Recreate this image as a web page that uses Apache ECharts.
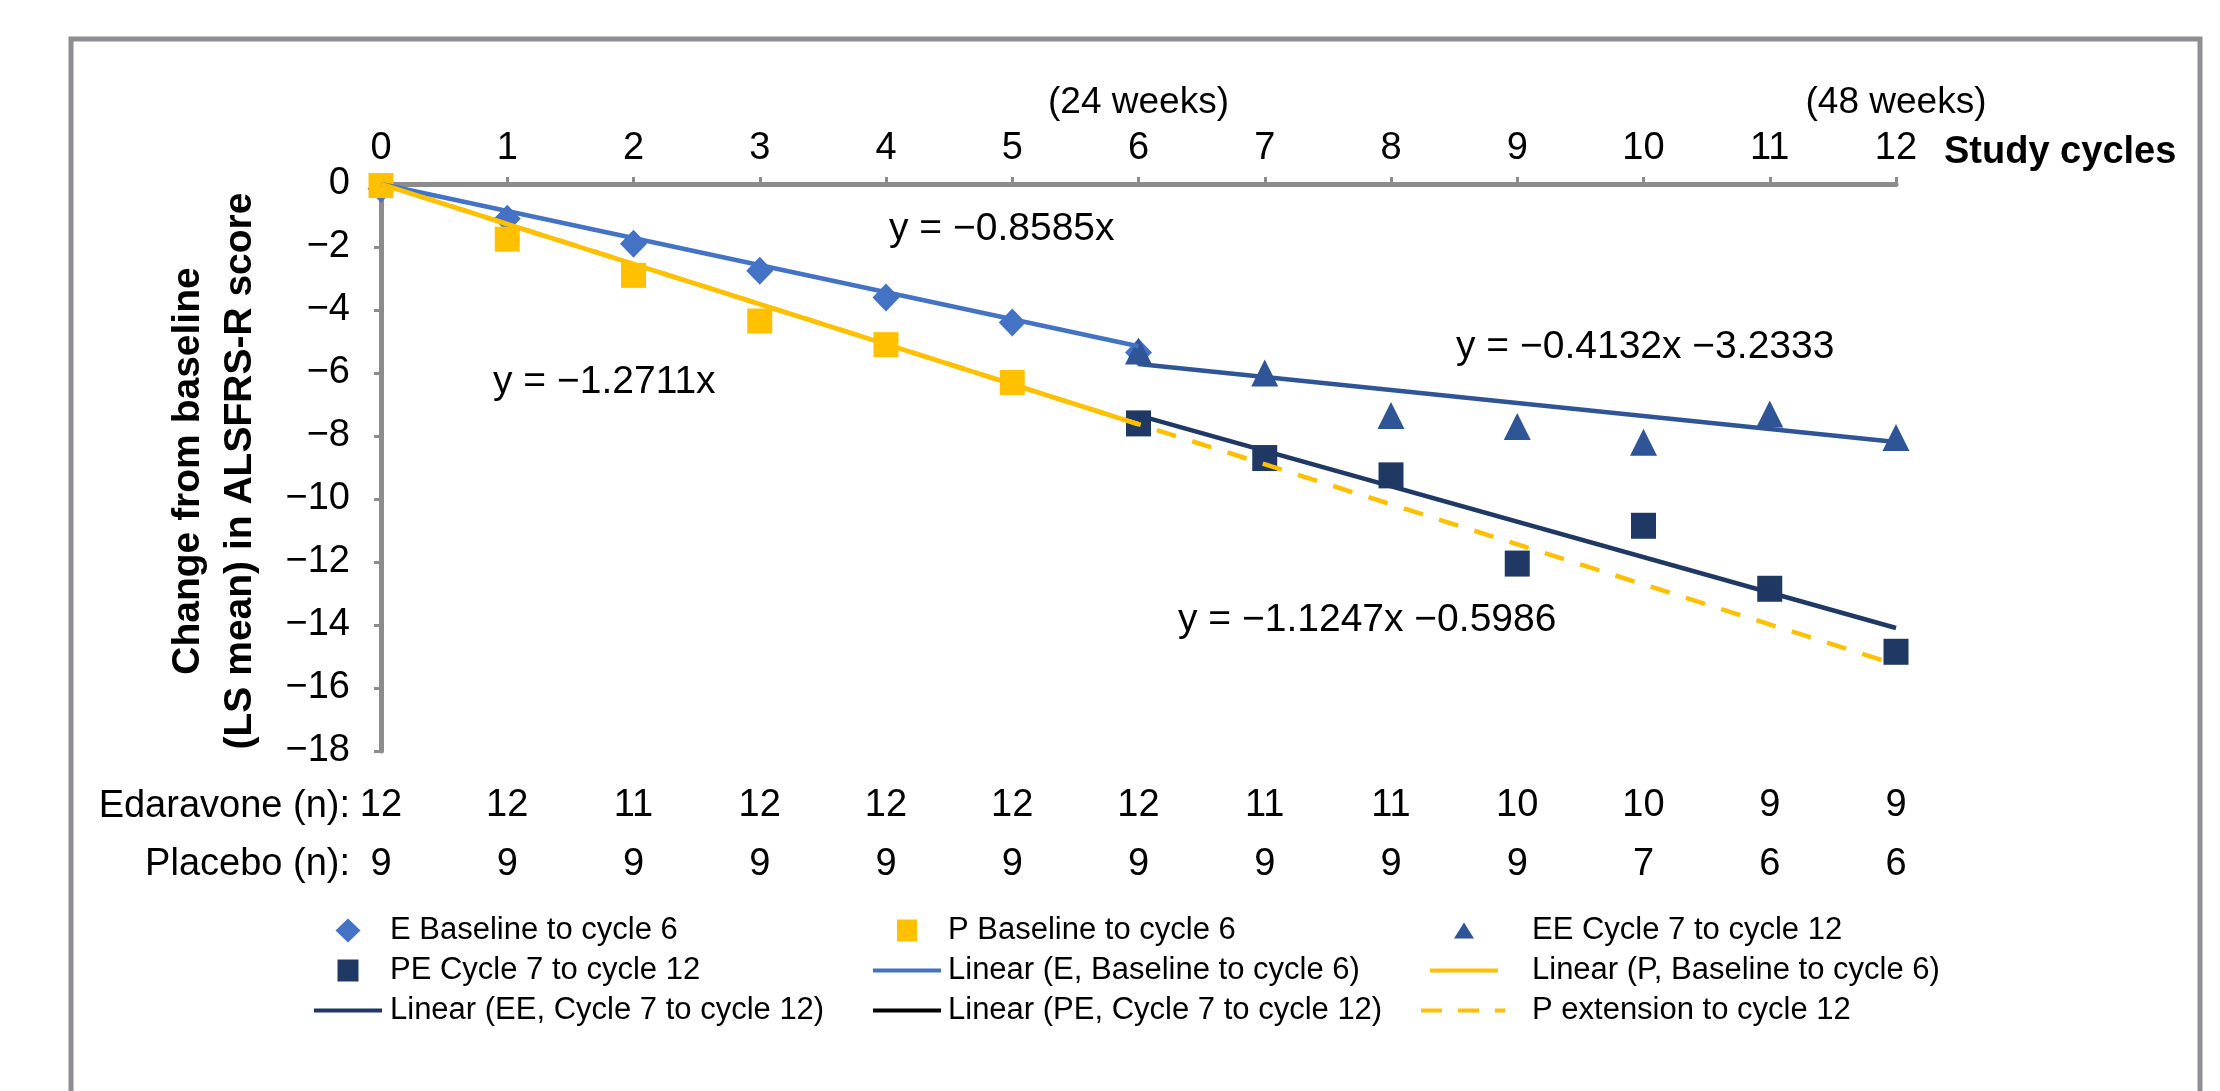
<!DOCTYPE html>
<html>
<head>
<meta charset="utf-8">
<title>ALSFRS-R change from baseline</title>
<script src="https://cdn.jsdelivr.net/npm/echarts@6/dist/echarts.min.js"></script>
<style>
  html, body { margin: 0; padding: 0; background: #ffffff; }
  #chart { width: 2220px; height: 1091px; }
</style>
</head>
<body>
<div id="chart"></div>
<script>
// Study cycles on the top axis
const cycles = [0, 1, 2, 3, 4, 5, 6, 7, 8, 9, 10, 11, 12];
const weekMarks = [6, 12];
const weekLabels = ['(24 weeks)', '(48 weeks)'];

// Change from baseline (LS mean) in ALSFRS-R score
const eCycles = [0, 1, 2, 3, 4, 5, 6];
const eChange = [-0.15, -1.1, -1.9, -2.75, -3.6, -4.4, -5.35];
const pCycles = [0, 1, 2, 3, 4, 5];
const pChange = [-0.05, -1.75, -2.9, -4.35, -5.1, -6.3];
const eeCycles = [6, 7, 8, 9, 10, 11, 12];
const eeChange = [-5.3, -6.0, -7.35, -7.7, -8.2, -7.3, -8.05];
const peCycles = [6, 7, 8, 9, 10, 11, 12];
const peChange = [-7.6, -8.7, -9.25, -12.05, -10.85, -12.85, -14.85];

// Patients per cycle
const edaravoneN = [12, 12, 11, 12, 12, 12, 12, 11, 11, 10, 10, 9, 9];
const placeboN = [9, 9, 9, 9, 9, 9, 9, 9, 9, 9, 7, 6, 6];

// Linear fits: [slope, intercept] and the cycle range each one spans
const fitE = [-0.8585, 0];
const fitP = [-1.2711, 0];
const fitEE = [-0.4132, -3.2333];
const fitPE = [-1.1247, -0.5986];
const rangeE = [0, 6];
const rangeP = [0, 6];
const rangeEE = [6, 12];
const rangePE = [6, 12];
const rangePExt = [0, 12];

const FONT = '"Liberation Sans", Arial, Helvetica, sans-serif';
const AXIS_GREY = '#8c8c8c';
const C_E = '#4472C4';
const C_P = '#FFC000';
const C_EE = '#2F5597';
const C_PE = '#1F3864';

const minus = '\u2212';
const pairs = (xs, ys) => xs.map((x, i) => [x, ys[i]]);
const fitLine = (fit, range) => range.map(x => [x, fit[0] * x + fit[1]]);
const equation = fit => {
  let s = 'y = ' + minus + Math.abs(fit[0]).toFixed(4) + 'x';
  if (fit[1] !== 0) s += ' ' + minus + Math.abs(fit[1]).toFixed(4);
  return s;
};

// Legend glyphs; the leading moves pin every glyph box to the full icon cell
const cell68 = 'path://M0 0M68 24';
const cell84 = 'path://M0 0M84 24';
const ICON = {
  diamond: cell68 + 'M34 0L46.5 12L34 24L21.5 12Z',
  squareP: cell68 + 'M24 1H44V23H24Z',
  squarePE: cell68 + 'M23.5 1H44.5V23H23.5Z',
  line: cell68 + 'M0 10H68V14H0Z',
  triangle: cell84 + 'M43 4L53 20H33Z',
  line84: cell84 + 'M9 10H77V14H9Z',
  dashed84: cell84 + 'M0 10H21V14H0Z M37 10H58V14H37Z M74 10H84V14H74Z'
};

const chart = echarts.init(document.getElementById('chart'), null, { renderer: 'canvas' });

const baseX = {
  type: 'value', min: 0, max: 12, interval: 1,
  splitLine: { show: false }
};

const legendText = { fontFamily: FONT, fontSize: 31, color: '#000', lineHeight: 31 };
const legendCommon = {
  orient: 'vertical', top: 915, itemHeight: 24, itemGap: 9, padding: 0,
  selectedMode: false, itemStyle: { borderWidth: 0 }
};

const option = {
  animation: false,
  backgroundColor: '#ffffff',
  grid: { left: 381, right: 324, top: 184, bottom: 340, containLabel: false },
  xAxis: [
    Object.assign({}, baseX, {
      position: 'top',
      axisLine: { show: true, onZero: false, lineStyle: { color: AXIS_GREY, width: 5 } },
      axisTick: { show: true, length: 7, lineStyle: { color: AXIS_GREY, width: 3 } },
      axisLabel: { margin: 16, color: '#000', fontFamily: FONT, fontSize: 38 }
    }),
    Object.assign({}, baseX, {
      position: 'top',
      axisLine: { show: false, onZero: false },
      axisTick: { show: false },
      axisLabel: {
        margin: 63, color: '#000', fontFamily: FONT, fontSize: 37,
        formatter: v => { const i = weekMarks.indexOf(v); return i >= 0 ? weekLabels[i] : ''; }
      }
    }),
    Object.assign({}, baseX, {
      position: 'bottom',
      axisLine: { show: false, onZero: false },
      axisTick: { show: false },
      axisLabel: {
        margin: 36, color: '#000', fontFamily: FONT, fontSize: 38,
        formatter: v => String(edaravoneN[cycles.indexOf(v)])
      }
    }),
    Object.assign({}, baseX, {
      position: 'bottom',
      axisLine: { show: false, onZero: false },
      axisTick: { show: false },
      axisLabel: {
        margin: 95, color: '#000', fontFamily: FONT, fontSize: 38,
        formatter: v => String(placeboN[cycles.indexOf(v)])
      }
    })
  ],
  yAxis: {
    type: 'value', min: -18, max: 0, interval: 2,
    axisLine: { show: true, onZero: false, lineStyle: { color: AXIS_GREY, width: 5 } },
    axisTick: { show: true, length: 7, lineStyle: { color: AXIS_GREY, width: 3 } },
    axisLabel: {
      margin: 31, color: '#000', fontFamily: FONT, fontSize: 38,
      formatter: v => (v === 0 ? '0' : minus + Math.abs(v))
    },
    splitLine: { show: false }
  },
  legend: [
    Object.assign({}, legendCommon, {
      left: 314, itemWidth: 68,
      textStyle: Object.assign({ padding: [0, 0, 0, 3] }, legendText),
      data: [
        { name: 'E Baseline to cycle 6', icon: ICON.diamond },
        { name: 'PE Cycle 7 to cycle 12', icon: ICON.squarePE },
        { name: 'Linear (EE, Cycle 7 to cycle 12)', icon: ICON.line, itemStyle: { color: C_PE, borderWidth: 0 } }
      ]
    }),
    Object.assign({}, legendCommon, {
      left: 873, itemWidth: 68,
      textStyle: Object.assign({ padding: [0, 0, 0, 2] }, legendText),
      data: [
        { name: 'P Baseline to cycle 6', icon: ICON.squareP },
        { name: 'Linear (E, Baseline to cycle 6)', icon: ICON.line },
        { name: 'Linear (PE, Cycle 7 to cycle 12)', icon: ICON.line, itemStyle: { color: '#000000', borderWidth: 0 } }
      ]
    }),
    Object.assign({}, legendCommon, {
      left: 1421, itemWidth: 84,
      textStyle: Object.assign({ padding: [0, 0, 0, 22] }, legendText),
      data: [
        { name: 'EE Cycle 7 to cycle 12', icon: ICON.triangle },
        { name: 'Linear (P, Baseline to cycle 6)', icon: ICON.line84 },
        { name: 'P extension to cycle 12', icon: ICON.dashed84 }
      ]
    })
  ],
  series: [
    {
      name: 'E Baseline to cycle 6', type: 'scatter', z: 2,
      symbol: 'diamond', symbolSize: [27, 28],
      itemStyle: { color: C_E, opacity: 1 },
      data: pairs(eCycles, eChange)
    },
    {
      name: 'P Baseline to cycle 6', type: 'scatter', z: 2,
      symbol: 'rect', symbolSize: [25, 25],
      itemStyle: { color: C_P, opacity: 1 },
      data: pairs(pCycles, pChange)
    },
    {
      name: 'EE Cycle 7 to cycle 12', type: 'scatter', z: 2,
      symbol: 'triangle', symbolSize: [27, 27],
      itemStyle: { color: C_EE, opacity: 1 },
      data: pairs(eeCycles, eeChange)
    },
    {
      name: 'PE Cycle 7 to cycle 12', type: 'scatter', z: 2,
      symbol: 'rect', symbolSize: [25, 26],
      itemStyle: { color: C_PE, opacity: 1 },
      data: pairs(peCycles, peChange)
    },
    {
      name: 'P extension to cycle 12', type: 'line', z: 3,
      symbol: 'none', showSymbol: false,
      lineStyle: { color: C_P, width: 4.5, type: [20, 17] },
      itemStyle: { color: C_P },
      data: fitLine(fitP, rangePExt)
    },
    {
      name: 'Linear (E, Baseline to cycle 6)', type: 'line', z: 3,
      symbol: 'none', showSymbol: false,
      lineStyle: { color: C_E, width: 4.5 },
      itemStyle: { color: C_E },
      data: fitLine(fitE, rangeE)
    },
    {
      name: 'Linear (P, Baseline to cycle 6)', type: 'line', z: 3,
      symbol: 'none', showSymbol: false,
      lineStyle: { color: C_P, width: 4.5 },
      itemStyle: { color: C_P },
      data: fitLine(fitP, rangeP)
    },
    {
      name: 'Linear (EE, Cycle 7 to cycle 12)', type: 'line', z: 3,
      symbol: 'none', showSymbol: false,
      lineStyle: { color: C_EE, width: 4.5 },
      itemStyle: { color: C_EE },
      data: fitLine(fitEE, rangeEE)
    },
    {
      name: 'Linear (PE, Cycle 7 to cycle 12)', type: 'line', z: 3,
      symbol: 'none', showSymbol: false,
      lineStyle: { color: C_PE, width: 4.5 },
      itemStyle: { color: C_PE },
      data: fitLine(fitPE, rangePE)
    }
  ],
  graphic: [
    // outer frame (open at the bottom)
    {
      type: 'rect', silent: true, z: 0,
      shape: { x: 71, y: 39, width: 2129, height: 1200 },
      style: { fill: 'none', stroke: '#8e8e93', lineWidth: 5 }
    },
    {
      type: 'text', x: 214, y: 471, rotation: Math.PI / 2,
      style: {
        text: 'Change from baseline\n(LS mean) in ALSFRS-R score',
        font: 'bold 39px ' + FONT, fill: '#000',
        align: 'center', verticalAlign: 'middle', lineHeight: 52
      }
    },
    {
      type: 'text', x: 1944, y: 153,
      style: { text: 'Study cycles', font: 'bold 38px ' + FONT, fill: '#000', align: 'left', verticalAlign: 'middle' }
    },
    {
      type: 'text', x: 350, y: 807,
      style: { text: 'Edaravone (n):', font: '38px ' + FONT, fill: '#000', align: 'right', verticalAlign: 'middle' }
    },
    {
      type: 'text', x: 350, y: 865,
      style: { text: 'Placebo (n):', font: '38px ' + FONT, fill: '#000', align: 'right', verticalAlign: 'middle' }
    },
    {
      type: 'text', x: 889, y: 229,
      style: { text: equation(fitE), font: '39px ' + FONT, fill: '#000', align: 'left', verticalAlign: 'middle' }
    },
    {
      type: 'text', x: 493, y: 382,
      style: { text: equation(fitP), font: '39px ' + FONT, fill: '#000', align: 'left', verticalAlign: 'middle' }
    },
    {
      type: 'text', x: 1456, y: 347,
      style: { text: equation(fitEE), font: '39px ' + FONT, fill: '#000', align: 'left', verticalAlign: 'middle' }
    },
    {
      type: 'text', x: 1178, y: 620,
      style: { text: equation(fitPE), font: '39px ' + FONT, fill: '#000', align: 'left', verticalAlign: 'middle' }
    }
  ]
};

chart.setOption(option);
</script>
</body>
</html>
